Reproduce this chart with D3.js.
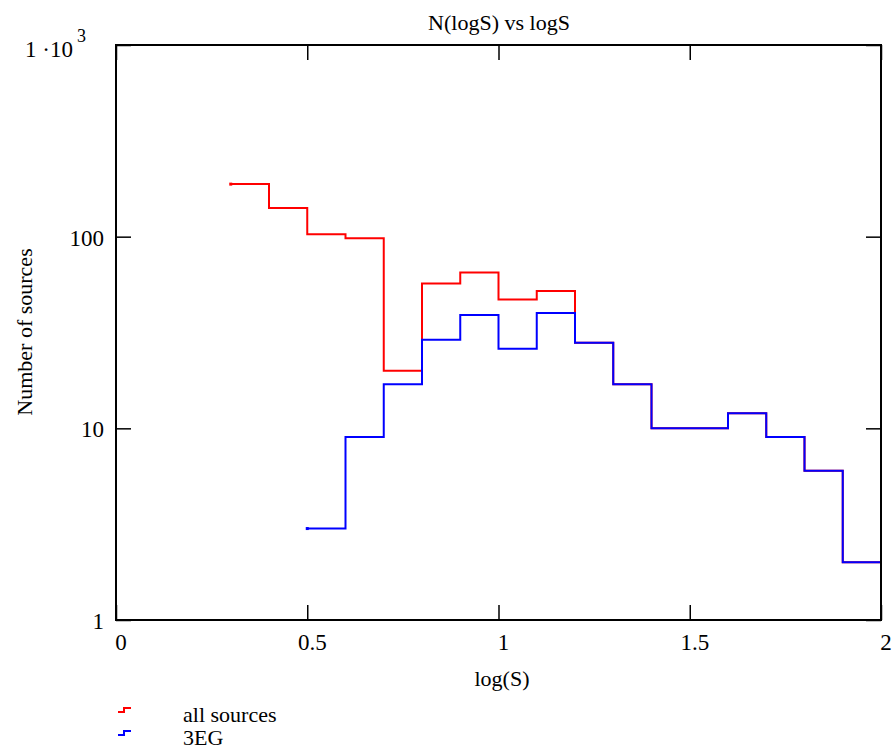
<!DOCTYPE html>
<html>
<head>
<meta charset="utf-8">
<script src="https://cdn.jsdelivr.net/npm/d3@7"></script>
<style>
  body { margin: 0; background: #fff; }
  svg text { font-family: 'Liberation Serif', 'Times New Roman', Times, 'DejaVu Serif', serif; }
</style>
</head>
<body>
<svg id="chart" width="895" height="756"></svg>
<script>
// ---- data ----
const binWidth = 0.1;
const allStarts = [0.3, 0.4, 0.5, 0.6, 0.7, 0.8, 0.9, 1.0, 1.1, 1.2, 1.3, 1.4, 1.5, 1.6, 1.7, 1.8, 1.9];
const allCounts = [188, 141, 103, 98, 20, 57, 65, 47, 52, 28, 17, 10, 10, 12, 9, 6, 2];
const egStarts  = [0.5, 0.6, 0.7, 0.8, 0.9, 1.0, 1.1, 1.2, 1.3, 1.4, 1.5, 1.6, 1.7, 1.8, 1.9];
const egCounts  = [3, 9, 17, 29, 39, 26, 40, 28, 17, 10, 10, 12, 9, 6, 2];
const xTicks = [0, 0.5, 1, 1.5, 2];
const xTickLabels = ["0", "0.5", "1", "1.5", "2"];
const yTicks = [1, 10, 100, 1000];
const yTickLabels = ["1", "10", "100", "1 \u00B710"];
const seriesNames = ["all sources", "3EG"];
const seriesColors = ["#ff0000", "#0000ff"];

const svg = d3.select("#chart");
const L = 116, R = 881, T = 45, B = 620;
const x = d3.scaleLinear().domain([0, 2]).range([L, R]);
const y = d3.scaleLog().domain([1, 1000]).range([B, T]);

// title
svg.append("text").attr("x", 499).attr("y", 30).attr("text-anchor", "middle")
  .attr("font-size", 22).text("N(logS) vs logS");

// series
function stepPoints(starts, counts) {
  const pts = starts.map((s, i) => [s, counts[i]]);
  pts.push([starts[starts.length - 1] + binWidth, counts[counts.length - 1]]);
  return pts;
}
const line = d3.line().x(d => x(d[0])).y(d => y(d[1])).curve(d3.curveStepAfter);
const series = [[allStarts, allCounts], [egStarts, egCounts]];
series.forEach(([s, c], i) => {
  const pts = stepPoints(s, c);
  svg.append("path").attr("d", line(pts)).attr("fill", "none")
    .attr("stroke", seriesColors[i]).attr("stroke-width", 2);
  svg.append("rect").attr("x", x(s[0]) - 1.5).attr("y", y(c[0]) - 1.5)
    .attr("width", 3).attr("height", 3).attr("fill", seriesColors[i]);
});

// frame
svg.append("rect").attr("x", L).attr("y", T).attr("width", R - L).attr("height", B - T)
  .attr("fill", "none").attr("stroke", "#000").attr("stroke-width", 2);

// ticks (inward on all four sides)
const gxb = svg.append("g").attr("transform", `translate(0,${B})`).call(d3.axisBottom(x).tickValues(xTicks).tickSize(-15).tickFormat(""));
const gxt = svg.append("g").attr("transform", `translate(0,${T})`).call(d3.axisTop(x).tickValues(xTicks).tickSize(-15).tickFormat(""));
const gyl = svg.append("g").attr("transform", `translate(${L},0)`).call(d3.axisLeft(y).tickValues(yTicks).tickSize(-15).tickFormat(""));
const gyr = svg.append("g").attr("transform", `translate(${R},0)`).call(d3.axisRight(y).tickValues(yTicks).tickSize(-15).tickFormat(""));
[gxb, gxt, gyl, gyr].forEach(g => {
  g.select(".domain").remove();
  g.selectAll(".tick line").attr("stroke", "#000").attr("stroke-width", 1.5);
});

// x tick labels
svg.append("g").selectAll("text").data(xTicks).join("text")
  .attr("x", d => x(d) + 5).attr("y", B + 30).attr("text-anchor", "middle")
  .attr("font-size", 23).text((d, i) => xTickLabels[i]);

// y tick labels
svg.append("g").selectAll("text").data(yTicks).join("text")
  .attr("x", d => d === 1000 ? 73 : 104).attr("y", d => y(d) + (d === 1000 ? 12 : 9))
  .attr("text-anchor", "end").attr("font-size", 23).text((d, i) => yTickLabels[i]);
svg.append("text").attr("x", 77).attr("y", y(1000) - 3).attr("font-size", 18).text("3");

// axis labels
svg.append("text").attr("x", 502).attr("y", 686).attr("text-anchor", "middle")
  .attr("font-size", 22).text("log(S)");
svg.append("text").attr("transform", "translate(32,332) rotate(-90)").attr("text-anchor", "middle")
  .attr("font-size", 22).text("Number of sources");

// legend
seriesNames.forEach((n, i) => {
  const by = 712 + i * 23;
  svg.append("path").attr("d", `M118,${by} H124 V${by - 4} H131`).attr("fill", "none")
    .attr("stroke", seriesColors[i]).attr("stroke-width", 2);
  svg.append("text").attr("x", 183).attr("y", by + 10).attr("font-size", 22).text(n);
});
</script>
</body>
</html>
